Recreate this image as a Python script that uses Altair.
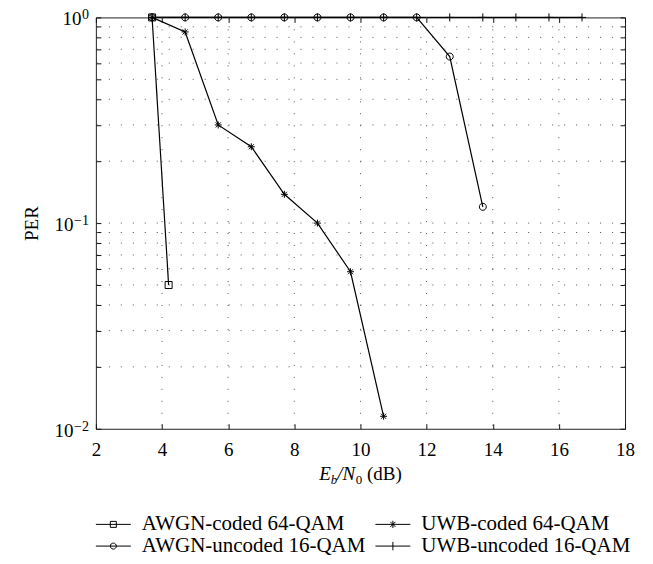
import altair as alt
import pandas as pd

# ---------------- data ----------------
series_names = ["AWGN-coded 64-QAM", "UWB-coded 64-QAM",
                "AWGN-uncoded 16-QAM", "UWB-uncoded 16-QAM"]

awgn_coded_x = [3.7, 4.2]
awgn_coded_per = [1.0, 0.05]

uwb_coded_x = [3.7, 4.7, 5.7, 6.7, 7.7, 8.7, 9.7, 10.7]
uwb_coded_per = [1.0, 0.85, 0.30, 0.235, 0.138, 0.10, 0.058, 0.0115]

awgn_uncoded_x = [3.7, 4.7, 5.7, 6.7, 7.7, 8.7, 9.7, 10.7, 11.7, 12.7, 13.7]
awgn_uncoded_per = [1.0, 1.0, 1.0, 1.0, 1.0, 1.0, 1.0, 1.0, 1.0, 0.645, 0.12]

uwb_uncoded_x = [3.7, 4.7, 5.7, 6.7, 7.7, 8.7, 9.7, 10.7, 11.7, 12.7, 13.7, 14.7, 15.7, 16.7]
uwb_uncoded_per = [1.0, 1.0, 1.0, 1.0, 1.0, 1.0, 1.0, 1.0, 1.0, 1.0, 1.0, 1.0, 1.0, 1.0]

x_ticks = [2, 4, 6, 8, 10, 12, 14, 16, 18]
x_grid = [4, 6, 8, 10, 12, 14, 16]
y_ticks = [0.01, 0.02, 0.03, 0.04, 0.05, 0.06, 0.07, 0.08, 0.09,
           0.1, 0.2, 0.3, 0.4, 0.5, 0.6, 0.7, 0.8, 0.9, 1.0]
y_grid = [0.02, 0.03, 0.04, 0.05, 0.06, 0.07, 0.08, 0.09,
          0.1, 0.2, 0.3, 0.4, 0.5, 0.6, 0.7, 0.8, 0.9]
y_label_values = [1.0, 0.1, 0.01]
y_label_exps = ["0", "\u22121", "\u22122"]

title_parts = ["E", "b", "/N", "0", "(dB)"]

# ---------------- build table ----------------
rows = []
for name, xs, ys in zip(series_names,
                        [awgn_coded_x, uwb_coded_x, awgn_uncoded_x, uwb_uncoded_x],
                        [awgn_coded_per, uwb_coded_per, awgn_uncoded_per, uwb_uncoded_per]):
    for i, (a, b) in enumerate(zip(xs, ys)):
        rows.append({"series": name, "ebn0": a, "per": b, "idx": i})
df = pd.DataFrame(rows)

W, H = 530, 412
FONT = "Liberation Serif"

marker_paths = [
    "M-1,-1H1V1H-1Z",                                              # square
    "M-1,0H1M0,-1V1M-0.72,-0.72L0.72,0.72M-0.72,0.72L0.72,-0.72",  # asterisk
    "M1,0A1,1 0 1,1 -1,0A1,1 0 1,1 1,0Z",                          # circle
    "M-1.15,0H1.15M0,-1.15V1.15",                                  # plus
]
L = 5.83
legend_paths = [
    f"M{-L},0H{L}M-1,-1H1V1H-1Z",
    f"M{-L},0H{L}M0,-1.2V1.2M-0.85,-0.85L0.85,0.85M-0.85,0.85L0.85,-0.85",
    f"M{-L},0H{L}M1,0A1,1 0 1,1 -1,0A1,1 0 1,1 1,0Z",
    f"M{-L},0H{L}M0,-1.4V1.4",
]

xscale = alt.Scale(domain=[2, 18], nice=False, zero=False)
yscale = alt.Scale(type="log", domain=[0.01, 1], nice=False)

xaxis = alt.Axis(values=x_ticks, format="d", grid=True,
                 gridDash=[5, H - 10, 5, 3000], gridColor="#111", gridWidth=1,
                 gridOpacity=1, ticks=False, tickSize=0, domain=False,
                 labelPadding=12, labelFont=FONT, labelFontSize=19,
                 labelColor="black", title=None, labelFlush=False)
yaxis = alt.Axis(values=y_ticks, labels=False, grid=True,
                 gridDash=[5, W - 10, 5, 3000], gridColor="#111", gridWidth=1,
                 gridOpacity=1, ticks=False, tickSize=0, domain=False,
                 title="PER", titleFont=FONT, titleFontSize=19,
                 titleFontWeight="normal", titleColor="black", titlePadding=54)

X = alt.X("ebn0:Q", scale=xscale, axis=xaxis)
Y = alt.Y("per:Q", scale=yscale, axis=yaxis)

base = alt.Chart(df)

lines = base.mark_line(color="black", strokeWidth=1.2).encode(
    x=X, y=Y, detail="series:N", order="idx:Q")

vgrid = alt.Chart(pd.DataFrame({"ebn0": x_grid})).mark_rule(
    strokeDash=[1, 11], color="#555", strokeWidth=1
).encode(x=X)

hgrid = alt.Chart(pd.DataFrame({"per": y_grid})).mark_rule(
    strokeDash=[1, 11], color="#555", strokeWidth=1
).encode(y=Y)

points = base.mark_point(filled=False, color="black", size=49, strokeWidth=1,
                         opacity=1).encode(
    x=X, y=Y,
    shape=alt.Shape("series:N",
                    scale=alt.Scale(domain=series_names, range=marker_paths),
                    legend=None))

legend_layer = base.mark_point(filled=False, color="black", size=36,
                               opacity=0).encode(
    x=X, y=Y,
    shape=alt.Shape("series:N",
                    scale=alt.Scale(domain=series_names, range=legend_paths),
                    legend=alt.Legend(orient="none", legendX=0, legendY=497,
                                      direction="horizontal",
                                      columns=2, columnPadding=7,
                                      rowPadding=0, padding=0,
                                      values=series_names,
                                      labelFont=FONT, labelFontSize=21,
                                      labelColor="black", labelLimit=400,
                                      symbolOffset=7, labelOffset=18,
                                      symbolSize=36, symbolStrokeWidth=1,
                                      symbolStrokeColor="black",
                                      symbolFillColor="transparent",
                                      symbolOpacity=1, title=None)))

# y tick labels: "10" with a raised exponent
ylab = pd.DataFrame({"per": y_label_values, "exp": y_label_exps})
exp_size, base_size = 14, 19
exp_right = -7
w_exp0 = 0.5 * exp_size
w_expneg = 1.064 * exp_size
ten_zero = alt.Chart(ylab).transform_filter("datum.exp == '0'").mark_text(
    align="right", baseline="alphabetic", font=FONT, fontSize=base_size,
    color="black", dy=8, text="10"
).encode(y=Y, x=alt.value(exp_right - w_exp0 - 0.5))
ten_neg = alt.Chart(ylab).transform_filter("datum.exp != '0'").mark_text(
    align="right", baseline="alphabetic", font=FONT, fontSize=base_size,
    color="black", dy=8, text="10"
).encode(y=Y, x=alt.value(exp_right - w_expneg - 0.5))
exps = alt.Chart(ylab).mark_text(
    align="right", baseline="alphabetic", font=FONT, fontSize=exp_size,
    color="black", dy=2
).encode(y=Y, x=alt.value(exp_right), text="exp:N")

# x-axis title built from pieces so that b and 0 are subscripts
big, small = 19, 13
widths = [0.611 * big, 0.5 * small, 0.945 * big + 0.5, 0.5 * small + 0.25 * big, 1.833 * big]
start = W / 2 - sum(widths) / 2
title_layers = []
pos = start
ty = 463
for part, w in zip(title_parts, widths):
    is_sub = part in ("b", "0")
    italic = part in ("E", "b", "/N")
    t = alt.Chart(pd.DataFrame({"t": [part]})).mark_text(
        align="left", baseline="alphabetic", font=FONT,
        fontSize=small if is_sub else big,
        fontStyle="italic" if italic else "normal",
        color="black", dy=4 if is_sub else 0
    ).encode(text="t:N", x=alt.value(pos), y=alt.value(ty))
    title_layers.append(t)
    pos += w

chart = alt.layer(lines, vgrid, hgrid, points, legend_layer,
                  ten_zero, ten_neg, exps, *title_layers).resolve_scale(
    shape="independent"
).properties(
    width=W, height=H,
    autosize=alt.AutoSizeParams(type="none"),
    padding={"left": 88, "top": 9, "right": 20, "bottom": 127},
).configure(font=FONT, background="white").configure_view(
    stroke="#222", strokeWidth=1
)

chart.save("out.html", embed_options={"renderer": "svg", "actions": False})
